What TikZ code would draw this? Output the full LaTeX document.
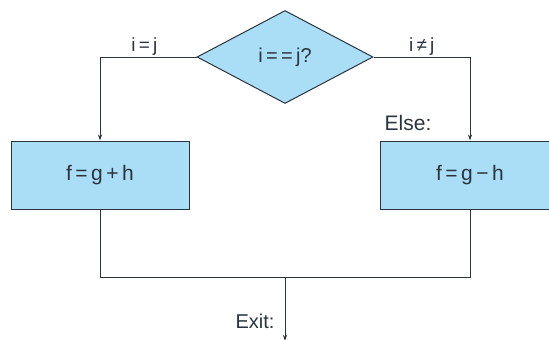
\documentclass[tikz,border=0pt]{standalone}
\usepackage{fontspec}
\setmainfont{Liberation Sans}
\usetikzlibrary{shapes.geometric,arrows.meta}
\definecolor{boxblue}{RGB}{170,222,246}
\definecolor{inkgray}{RGB}{42,52,64}
\begin{document}
\begin{tikzpicture}[x=1pt,y=-1pt,
  every node/.style={text=inkgray},
  test/.style={shape=diamond,draw=inkgray,fill=boxblue,line width=1pt,inner sep=0pt,
    minimum width=176pt,minimum height=93pt,font=\fontsize{20}{22}\selectfont},
  stmt/.style={shape=rectangle,draw=inkgray,fill=boxblue,line width=1pt,
    minimum width=178pt,minimum height=68pt,font=\fontsize{21}{24}\selectfont},
  lbl/.style={font=\fontsize{19}{22}\selectfont,inner sep=1pt},
  flow/.style={draw=inkgray,line width=1pt}]
\clip (0,0) rectangle (549,340);
\node[test] (T) at (285,57) {i\,=\,=\,j?};
\node[stmt] (A) at (100,175) {f\,=\,g\,+\,h};
\node[stmt,minimum width=180pt] (B) at (470,175) {f\,=\,g\,−\,h};
\coordinate (J) at (285,277);
\coordinate (X) at (285,341);
\path [flow,-{Stealth[length=6pt,width=4pt]}] (T.west) -| node[lbl,above,pos=0.27] {i\,=\,j} (A.north);
\path [flow,-{Stealth[length=6pt,width=4pt]}] (T.east) -| node[lbl,above,pos=0.25] {i\,≠\,j} (B.north);
\path [flow] (A.south) |- (J);
\path [flow] (B.south) |- (J);
\path [flow,-{Stealth[length=6pt,width=4pt]}] (J) -- (X);
\node[lbl,font=\fontsize{21}{24}\selectfont] (E) at (408,123) {Else:};
\node[lbl,font=\fontsize{20}{22}\selectfont] (Q) at (255,321) {Exit:};
\end{tikzpicture}
\end{document}
